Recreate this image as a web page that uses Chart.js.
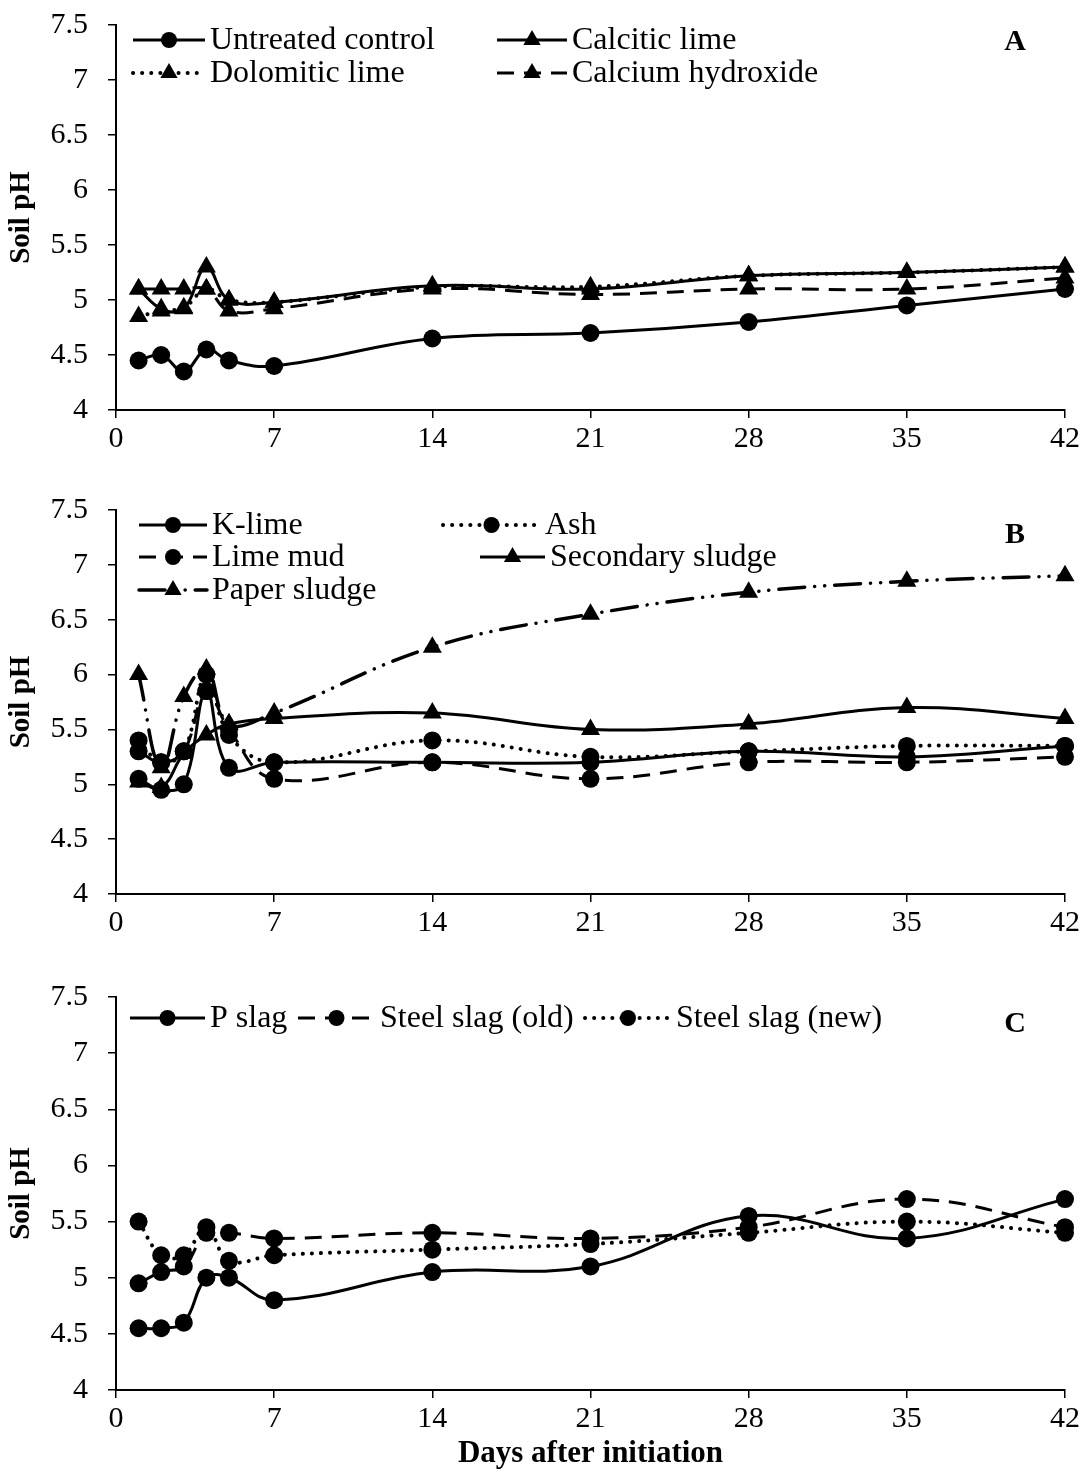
<!DOCTYPE html>
<html>
<head>
<meta charset="utf-8">
<script src="https://cdn.jsdelivr.net/npm/chart.js@4.4.1/dist/chart.umd.min.js"></script>
<style>
  body { margin: 0; background: #fff; }
  .painel { position: absolute; left: 0; }
</style>
</head>
<body>
<canvas id="graficoA" class="painel" style="top:0" width="1083" height="487"></canvas>
<canvas id="graficoB" class="painel" style="top:487px" width="1083" height="487"></canvas>
<canvas id="graficoC" class="painel" style="top:974px" width="1083" height="499"></canvas>
<script>
// DADOS
const dias = [1, 2, 3, 4, 5, 7, 14, 21, 28, 35, 42];

// painel A
const controle   = [4.45, 4.5, 4.35, 4.55, 4.45, 4.4, 4.65, 4.7, 4.8, 4.95, 5.1];
const calcitico  = [5.1, 4.92, 4.92, 5.3, 5.0, 4.98, 5.13, 5.1, 5.22, 5.25, 5.3];
const dolomitico = [4.85, 4.9, 4.93, 5.1, 5.0, 4.98, 5.12, 5.12, 5.22, 5.25, 5.3];
const hidroxido  = [5.1, 5.1, 5.1, 5.1, 4.9, 4.92, 5.1, 5.05, 5.1, 5.1, 5.2];

// painel B
const kLime          = [5.05, 4.95, 5.0, 5.85, 5.15, 5.2, 5.2, 5.2, 5.3, 5.25, 5.35];
const cinza          = [5.4, 5.2, 5.3, 6.0, 5.45, 5.2, 5.4, 5.25, 5.3, 5.35, 5.35];
const lamaCal        = [5.3, 5.2, 5.3, 5.85, 5.5, 5.05, 5.2, 5.05, 5.2, 5.2, 5.25];
const lodoSecundario = [5.02, 4.97, 5.28, 5.45, 5.55, 5.6, 5.65, 5.5, 5.55, 5.7, 5.6];
const lodoPapel      = [6.0, 5.15, 5.8, 6.05, 5.55, 5.65, 6.25, 6.55, 6.75, 6.85, 6.9];

// painel C
const escoriaP  = [4.55, 4.55, 4.6, 5.0, 5.0, 4.8, 5.05, 5.1, 5.55, 5.35, 5.7];
const acoVelha  = [4.95, 5.05, 5.1, 5.4, 5.4, 5.35, 5.4, 5.35, 5.45, 5.7, 5.45];
const acoNova   = [5.5, 5.2, 5.2, 5.45, 5.15, 5.2, 5.25, 5.3, 5.4, 5.5, 5.4];

// ESTILOS DE LINHA
const FONTE = "'Liberation Serif', 'Times New Roman', serif";
const solida = { borderDash: [], borderCapStyle: 'butt', borderWidth: 3 };
const pontilhada = { borderDash: [0.1, 9], borderCapStyle: 'round', borderWidth: 4 };
const tracejada = { borderDash: [17, 10], borderCapStyle: 'butt', borderWidth: 3 };
const traco2pontos = { borderDash: [26, 10, 0.1, 10, 0.1, 10], borderCapStyle: 'round', borderWidth: 3.5 };
const circulo = { pointStyle: 'circle', pointRadius: 9 };
const triangulo = { pointStyle: 'triangle', pointRadius: 11 };

Chart.defaults.font.family = FONTE;
Chart.defaults.color = '#000';

function serie(rotulo, valores, linha, marca) {
    return Object.assign({
        label: rotulo,
        data: dias.map((d, i) => ({ x: d, y: valores[i] })),
        borderColor: '#000',
        backgroundColor: '#000',
        tension: 0.4,
        pointBorderWidth: 0,
        pointHoverRadius: 9,
        clip: false
    }, linha, marca);
}

// LEGENDA (desenhada no canvas, estilo Excel)
const pluginLegenda = {
    id: 'legendaPainel',
    afterDraw(chart, args, opts) {
        const ctx = chart.ctx;
        ctx.save();
        ctx.fillStyle = '#000';
        ctx.strokeStyle = '#000';
        (opts.itens || []).forEach(item => {
            const ds = chart.data.datasets[item.serie];
            ctx.lineWidth = ds.borderWidth;
            ctx.setLineDash(ds.borderDash || []);
            ctx.lineCap = ds.borderCapStyle || 'butt';
            ctx.beginPath();
            ctx.moveTo(item.x0, item.y);
            ctx.lineTo(item.x1, item.y);
            ctx.stroke();
            ctx.setLineDash([]);
            Chart.helpers.drawPoint(ctx, {
                pointStyle: ds.pointStyle,
                radius: ds.pointRadius - 1,
                rotation: 0,
                borderWidth: 0
            }, (item.x0 + item.x1) / 2, item.y);
            ctx.font = "32px " + FONTE;
            ctx.textBaseline = 'middle';
            ctx.textAlign = 'left';
            ctx.fillText(ds.label, item.x1 + 5, item.y + 1);
        });
        if (opts.letra) {
            ctx.font = "bold 30px " + FONTE;
            ctx.textAlign = 'center';
            ctx.textBaseline = 'middle';
            ctx.fillText(opts.letra.texto, opts.letra.x, opts.letra.y);
        }
        ctx.restore();
    }
};

function opcoes(topo, alturaX, legenda, letra, tituloX) {
    const grade = { drawOnChartArea: false, drawTicks: true, tickLength: 8, color: '#000', lineWidth: 1.5 };
    const borda = { color: '#000', width: 2 };
    return {
        responsive: false,
        animation: false,
        layout: { padding: { top: topo, right: 18, left: 0, bottom: 0 } },
        plugins: {
            legend: { display: false },
            tooltip: { enabled: false },
            legendaPainel: { itens: legenda, letra: letra }
        },
        scales: {
            x: {
                type: 'linear', min: 0, max: 42,
                ticks: { stepSize: 7, padding: 3, font: { size: 30 } },
                grid: grade, border: borda,
                afterFit: s => { s.height = alturaX; },
                title: {
                    display: !!tituloX, text: tituloX || '',
                    font: { size: 31, weight: 'bold' },
                    padding: { top: 0, bottom: 0 }
                }
            },
            y: {
                min: 4, max: 7.5,
                ticks: { stepSize: 0.5, padding: 20, font: { size: 30 }, callback: v => String(v) },
                grid: grade, border: borda,
                afterFit: s => {
                    s.width = 116;
                    s.paddingTop = 0;
                    s.paddingBottom = 0;
                },
                title: {
                    display: true, text: 'Soil pH',
                    font: { size: 29, weight: 'bold' },
                    padding: { top: 4, bottom: 0 }
                }
            }
        }
    };
}

// PAINEL A
new Chart(document.getElementById('graficoA'), {
    type: 'line',
    data: {
        datasets: [
            serie('Untreated control', controle, solida, circulo),
            serie('Calcitic lime', calcitico, solida, triangulo),
            serie('Dolomitic lime', dolomitico, pontilhada, triangulo),
            serie('Calcium hydroxide', hidroxido, tracejada, triangulo)
        ]
    },
    options: opcoes(25, 77, [
        { serie: 0, x0: 133, x1: 205, y: 40 },
        { serie: 1, x0: 497, x1: 567, y: 40 },
        { serie: 2, x0: 133, x1: 205, y: 73 },
        { serie: 3, x0: 497, x1: 567, y: 73 }
    ], { texto: 'A', x: 1015, y: 42 }),
    plugins: [pluginLegenda]
});

// PAINEL B
new Chart(document.getElementById('graficoB'), {
    type: 'line',
    data: {
        datasets: [
            serie('K-lime', kLime, solida, circulo),
            serie('Ash', cinza, pontilhada, circulo),
            serie('Lime mud', lamaCal, tracejada, circulo),
            serie('Secondary sludge', lodoSecundario, solida, triangulo),
            serie('Paper sludge', lodoPapel, traco2pontos, triangulo)
        ]
    },
    options: opcoes(23, 80, [
        { serie: 0, x0: 139, x1: 207, y: 38 },
        { serie: 1, x0: 443, x1: 540, y: 38 },
        { serie: 2, x0: 139, x1: 207, y: 70 },
        { serie: 3, x0: 480, x1: 545, y: 70 },
        { serie: 4, x0: 139, x1: 207, y: 103 }
    ], { texto: 'B', x: 1015, y: 48 }),
    plugins: [pluginLegenda]
});

// PAINEL C
new Chart(document.getElementById('graficoC'), {
    type: 'line',
    data: {
        datasets: [
            serie('P slag', escoriaP, solida, circulo),
            serie('Steel slag (old)', acoVelha, tracejada, circulo),
            serie('Steel slag (new)', acoNova, pontilhada, circulo)
        ]
    },
    options: opcoes(23, 83, [
        { serie: 0, x0: 130, x1: 205, y: 44 },
        { serie: 1, x0: 298, x1: 375, y: 44 },
        { serie: 2, x0: 585, x1: 671, y: 44 }
    ], { texto: 'C', x: 1015, y: 50 }, 'Days after initiation'),
    plugins: [pluginLegenda]
});
</script>
</body>
</html>
